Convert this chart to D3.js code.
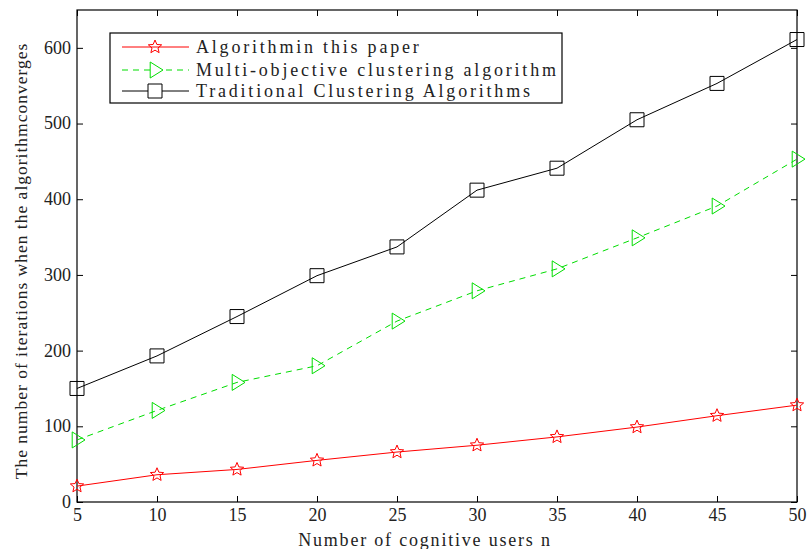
<!DOCTYPE html>
<html><head><meta charset="utf-8">
<script src="https://cdn.jsdelivr.net/npm/d3@7"></script>
<style>body{margin:0;background:#fff;} text{font-family:"Liberation Serif","DejaVu Serif",serif;}</style>
</head><body>
<svg id="c" width="807" height="549"></svg>
<script>
const xValues = [5,10,15,20,25,30,35,40,45,50];
const redValues = [21,36,43,55,66,75,86,99,114,128];
const greenValues = [82,121,158,180,239,279,308,349,391,453];
const blackValues = [150,193,245,299,337,412,441,505,553,611];
const seriesNames = ["Algorithmin this paper","Multi-objective clustering algorithm","Traditional Clustering Algorithms"];
const xTicks = [5,10,15,20,25,30,35,40,45,50];
const yTicks = [0,100,200,300,400,500,600];

const svg = d3.select("#c");
const L=77, R=797, T=10, B=502;
const x = d3.scaleLinear().domain([5,50]).range([L,R]);
const y = d3.scaleLinear().domain([0,650]).range([B,T]);

svg.append("rect").attr("x",L).attr("y",T).attr("width",R-L).attr("height",B-T)
  .attr("fill","none").attr("stroke","#000").attr("stroke-width",1.2);

const fs = "18px";
const gx = svg.append("g").attr("transform",`translate(0,${B})`)
  .call(d3.axisBottom(x).tickValues(xTicks).tickSize(-6).tickPadding(4).tickFormat(d3.format("d")));
const gxt = svg.append("g").attr("transform",`translate(0,${T})`)
  .call(d3.axisTop(x).tickValues(xTicks).tickSize(-6).tickFormat(""));
const gy = svg.append("g").attr("transform",`translate(${L},0)`)
  .call(d3.axisLeft(y).tickValues(yTicks).tickSize(-6).tickPadding(6).tickFormat(d3.format("d")));
const gyr = svg.append("g").attr("transform",`translate(${R},0)`)
  .call(d3.axisRight(y).tickValues(yTicks).tickSize(-6).tickFormat(""));
[gx,gxt,gy,gyr].forEach(g=>{g.select(".domain").remove();g.selectAll("line").attr("stroke","#000");
  g.selectAll("text").attr("font-size",fs).attr("fill","#222").style("font-family","Liberation Serif");});
gx.selectAll("text").attr("dy","0.85em");
gy.selectAll("text").attr("dy","0.3em");

const line = d3.line().x((d,i)=>x(xValues[i])).y(d=>y(d));
svg.append("path").datum(blackValues).attr("d",line).attr("fill","none").attr("stroke","#000").attr("stroke-width",1);
svg.append("path").datum(greenValues).attr("d",line).attr("fill","none").attr("stroke","#00dd00").attr("stroke-width",1).attr("stroke-dasharray","6,5");
svg.append("path").datum(redValues).attr("d",line).attr("fill","none").attr("stroke","#ff0000").attr("stroke-width",1);

function star(cx,cy,r){
  const pts=[];for(let k=0;k<10;k++){const a=-Math.PI/2+k*Math.PI/5;const rr=k%2?r*0.45:r;pts.push([cx+rr*Math.cos(a),cy+rr*Math.sin(a)]);}
  return "M"+pts.map(p=>p.join(",")).join("L")+"Z";
}
function tri(cx,cy,s){return `M${cx-s*0.6},${cy-s}L${cx+s},${cy}L${cx-s*0.6},${cy+s}Z`;}
function sq(cx,cy,s){return `M${cx-s},${cy-s}h${2*s}v${2*s}h${-2*s}Z`;}

svg.append("g").selectAll("path").data(blackValues).join("path")
  .attr("d",(d,i)=>sq(x(xValues[i]),y(d),7)).attr("fill","none").attr("stroke","#000").attr("stroke-width",1);
svg.append("g").selectAll("path").data(greenValues).join("path")
  .attr("d",(d,i)=>tri(x(xValues[i]),y(d),8)).attr("fill","none").attr("stroke","#00dd00").attr("stroke-width",1);
svg.append("g").selectAll("path").data(redValues).join("path")
  .attr("d",(d,i)=>star(x(xValues[i]),y(d),7)).attr("fill","none").attr("stroke","#ff0000").attr("stroke-width",1);

const lg = svg.append("g");
lg.append("rect").attr("x",110).attr("y",33).attr("width",452).attr("height",70).attr("fill","#fff").attr("stroke","#000").attr("stroke-width",1.2);
const rows=[{c:"#ff0000",dash:null,m:star,s:7,y:47},{c:"#00dd00",dash:"6,5",m:tri,s:8,y:70},{c:"#000",dash:null,m:sq,s:7,y:91}];
rows.forEach((r,i)=>{
  lg.append("line").attr("x1",122).attr("x2",189).attr("y1",r.y).attr("y2",r.y).attr("stroke",r.c).attr("stroke-dasharray",r.dash);
  lg.append("path").attr("d",r.m(155,r.y,r.s)).attr("fill",i==0?"none":"#fff").attr("stroke",r.c);
  lg.append("text").attr("x",196).attr("y",r.y+6).attr("font-size","18px").attr("fill","#222")
    .attr("letter-spacing","2.8px").text(seriesNames[i]);
});

svg.append("text").attr("x",425).attr("y",546).attr("text-anchor","middle").attr("font-size","18px").attr("fill","#222")
  .attr("letter-spacing","1.8px").text("Number of cognitive users n");
svg.append("text").attr("transform","translate(27,261) rotate(-90)").attr("text-anchor","middle").attr("font-size","17.5px").attr("fill","#222")
  .attr("letter-spacing","1px").text("The number of iterations when the algorithmconverges");
</script>
</body></html>
